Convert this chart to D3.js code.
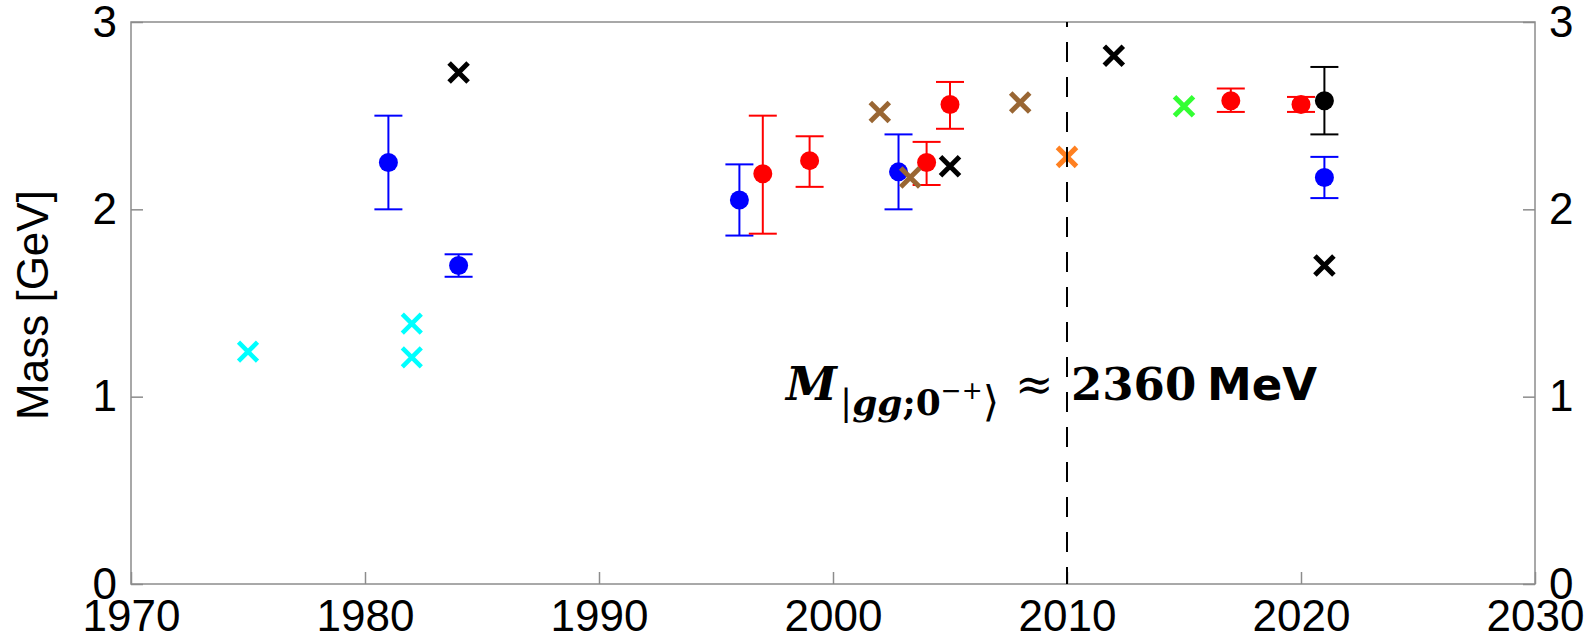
<!DOCTYPE html>
<html>
<head>
<meta charset="utf-8">
<script src="https://cdn.jsdelivr.net/npm/d3@7"></script>
<style>
    body { margin: 0; background: #fff; }
    svg { display: block; }
</style>
</head>
<body>
<svg id="chart" width="1596" height="639"></svg>
<script>
// axis ticks
const xTicks = [1970, 1980, 1990, 2000, 2010, 2020, 2030];
const yTicks = [0, 1, 2, 3];

// measurements with error bars: [year, mass, low, high]
const bluePoints = [[1981, 2.25, 2.00, 2.50], [1984, 1.70, 1.64, 1.76], [1996, 2.05, 1.86, 2.24], [2002.8, 2.20, 2.00, 2.40], [2021, 2.17, 2.06, 2.28]];
const redPoints = [[1997, 2.19, 1.87, 2.50], [1999, 2.26, 2.12, 2.39], [2004, 2.25, 2.13, 2.36], [2005, 2.56, 2.43, 2.68], [2017, 2.58, 2.52, 2.645], [2020, 2.56, 2.52, 2.60]];
const blackPoints = [[2021, 2.58, 2.40, 2.76]];

// predictions, cross markers: [year, mass]
const cyanCross = [[1975, 1.24], [1982, 1.39], [1982, 1.21]];
const blackCross = [[1984, 2.73], [2005, 2.23], [2012, 2.82], [2021, 1.70]];
const brownCross = [[2002, 2.52], [2003.3, 2.17], [2008, 2.57]];
const orangeCross = [[2010, 2.28]];
const greenCross = [[2015, 2.55]];

const markLine = 2010;

const svg = d3.select("#chart");
const axisColor = "#8c8c8c";

const x = d3.scaleLinear().domain([1970, 2030]).range([131, 1535]);
const y = d3.scaleLinear().domain([0, 3]).range([584, 22]);

function styleAxis(g) {
    g.select(".domain").remove();
    g.selectAll(".tick line").attr("stroke", axisColor).attr("stroke-width", 1.5);
    g.selectAll(".tick text")
        .attr("fill", "#000")
        .style("font-family", "'Liberation Sans', Arial, sans-serif")
        .style("font-size", "44px");
}

//bottom axis
svg.append("g")
    .attr("transform", "translate(0," + y(0) + ")")
    .call(d3.axisBottom(x).tickValues(xTicks).tickFormat(d3.format("d"))
        .tickSizeInner(-12).tickSizeOuter(0).tickPadding(16))
    .call(styleAxis);

//left axis
svg.append("g")
    .attr("transform", "translate(" + x(1970) + ",0)")
    .call(d3.axisLeft(y).tickValues(yTicks).tickFormat(d3.format("d"))
        .tickSizeInner(-12).tickSizeOuter(0).tickPadding(14))
    .call(styleAxis);

//right axis
svg.append("g")
    .attr("transform", "translate(" + x(2030) + ",0)")
    .call(d3.axisRight(y).tickValues(yTicks).tickFormat(d3.format("d"))
        .tickSizeInner(-12).tickSizeOuter(0).tickPadding(14))
    .call(styleAxis);

//box around the plot
svg.append("rect")
    .attr("x", x(1970))
    .attr("y", y(3))
    .attr("width", x(2030) - x(1970))
    .attr("height", y(0) - y(3))
    .attr("fill", "none")
    .attr("stroke", axisColor)
    .attr("stroke-width", 1.5);

//y axis title
svg.append("text")
    .attr("transform", "translate(48," + (y(1.5) + 2) + ") rotate(-90)")
    .attr("text-anchor", "middle")
    .style("font-family", "'Liberation Sans', Arial, sans-serif")
    .style("font-size", "44px")
    .text("Mass [GeV]");

function drawErrorPoints(data, color) {
    var g = svg.append("g");
    var cap = 14;
    data.forEach(function (d) {
        var cx = x(d[0]);
        g.append("line")
            .attr("x1", cx).attr("x2", cx)
            .attr("y1", y(d[2])).attr("y2", y(d[3]))
            .attr("stroke", color).attr("stroke-width", 2);
        [d[2], d[3]].forEach(function (v) {
            g.append("line")
                .attr("x1", cx - cap).attr("x2", cx + cap)
                .attr("y1", y(v)).attr("y2", y(v))
                .attr("stroke", color).attr("stroke-width", 2);
        });
        g.append("circle")
            .attr("cx", cx).attr("cy", y(d[1]))
            .attr("r", 9.5)
            .attr("fill", color);
    });
}

function drawCrosses(data, color, w) {
    var s = 9.5;
    svg.append("g")
        .selectAll("path")
        .data(data)
        .join("path")
        .attr("d", function (d) {
            var cx = x(d[0]), cy = y(d[1]);
            return "M" + (cx - s) + "," + (cy - s) + "L" + (cx + s) + "," + (cy + s) +
                "M" + (cx - s) + "," + (cy + s) + "L" + (cx + s) + "," + (cy - s);
        })
        .attr("stroke", color)
        .attr("stroke-width", w)
        .attr("fill", "none");
}

drawErrorPoints(bluePoints, "#0000ff");
drawErrorPoints(redPoints, "#ff0000");
drawErrorPoints(blackPoints, "#000000");

drawCrosses(cyanCross, "#00ffff", 4.5);
drawCrosses(brownCross, "#996633", 5);
drawCrosses(orangeCross, "#ff8020", 5);
drawCrosses(greenCross, "#33ff33", 5);
drawCrosses(blackCross, "#000000", 5);

//dashed line at 2010
svg.append("line")
    .attr("x1", x(markLine)).attr("x2", x(markLine))
    .attr("y1", y(3)).attr("y2", y(0))
    .attr("stroke", "#000")
    .attr("stroke-width", 2)
    .attr("stroke-dasharray", "20,15")
    .attr("stroke-dashoffset", 15);

//mass annotation
var base = 400;
var sub = base + 15;
var note = svg.append("text")
    .attr("y", base)
    .style("font-family", "'DejaVu Serif', serif")
    .style("font-weight", "bold")
    .style("font-size", "46px");
note.append("tspan").attr("x", 786).style("font-style", "italic").text("M");
note.append("tspan").attr("x", 840).attr("y", sub).style("font-size", "36px").style("font-weight", "normal").text("|");
note.append("tspan").attr("y", sub).style("font-size", "36px").style("font-style", "italic").text("gg");
note.append("tspan").attr("y", sub).style("font-size", "36px").text(";0");
note.append("tspan").attr("y", sub - 16).style("font-size", "25px").style("font-family", "'DejaVu Sans', sans-serif").style("font-weight", "normal").text("\u2212+");
note.append("tspan").attr("y", sub + 1).style("font-size", "42px").style("font-family", "'DejaVu Sans', sans-serif").style("font-weight", "normal").text("\u27E9");
note.append("tspan").attr("x", 1015).attr("y", base).style("font-weight", "normal").text("\u2248");
note.append("tspan").attr("x", 1071).style("font-size", "45px").text("2360");
note.append("tspan").attr("x", 1207).style("font-size", "45px").style("font-family", "'DejaVu Sans', sans-serif").text("MeV");
</script>
</body>
</html>
